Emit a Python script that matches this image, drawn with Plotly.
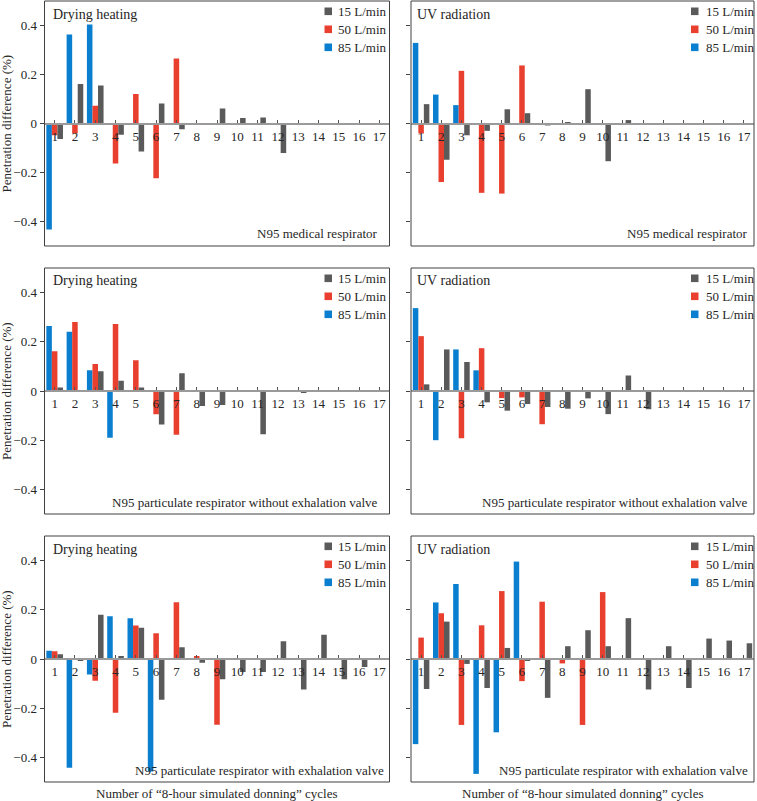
import plotly.graph_objects as go

W, H = 757, 801

cycles = list(range(1, 18))
series_names = ["85 L/min", "50 L/min", "15 L/min"]
legend_names = ["15 L/min", "50 L/min", "85 L/min"]
y_ticks = [-0.4, -0.2, 0, 0.2, 0.4]

# N95 medical respirator
dh_med_85 = [-0.433, 0.363, 0.404, 0, 0, 0, 0, 0, 0, 0, 0, 0, 0, 0, 0, 0, 0]
dh_med_50 = [-0.048, -0.041, 0.072, -0.163, 0.120, -0.223, 0.265, 0, 0, 0, 0, 0, 0, 0, 0, 0, 0]
dh_med_15 = [-0.063, 0.161, 0.155, -0.046, -0.114, 0.082, -0.023, -0.003, 0.061, 0.022, 0.024, -0.120, 0, 0, 0, 0, 0]
uv_med_85 = [0.329, 0.118, 0.075, 0, 0, 0, 0, 0, 0, 0, 0, 0, 0, 0, 0, 0, 0]
uv_med_50 = [-0.041, -0.239, 0.215, -0.283, -0.286, 0.237, 0, 0, 0, 0, 0, 0, 0, 0, 0, 0, 0]
uv_med_15 = [0.079, -0.148, -0.048, -0.030, 0.058, 0.042, -0.008, 0.004, 0.140, -0.154, 0.014, 0, 0, 0, 0, 0, 0]

# N95 particulate respirator without exhalation valve
dh_nov_85 = [0.264, 0.241, 0.084, -0.190, 0, 0, 0, 0, 0, 0, 0, 0, 0, 0, 0, 0, 0]
dh_nov_50 = [0.162, 0.280, 0.110, 0.272, 0.125, -0.095, -0.178, 0, 0, 0, 0, 0, 0, 0, 0, 0, 0]
dh_nov_15 = [0.014, 0, 0.080, 0.042, 0.014, -0.136, 0.072, -0.061, -0.057, -0.003, -0.176, -0.003, -0.008, 0, 0, 0, 0]
uv_nov_85 = [0.337, -0.200, 0.169, 0.084, 0, 0, 0, 0, 0, 0, 0, 0, 0, 0, 0, 0, 0]
uv_nov_50 = [0.223, 0.003, -0.192, 0.174, -0.029, -0.026, -0.135, 0, 0, 0, 0, 0, 0, 0, 0, 0, 0]
uv_nov_15 = [0.027, 0.169, 0.118, -0.046, -0.080, -0.053, -0.065, -0.072, -0.030, -0.094, 0.063, -0.074, 0, 0, 0, 0, 0]

# N95 particulate respirator with exhalation valve
dh_val_85 = [0.034, -0.442, -0.063, 0.174, 0.166, -0.457, 0, 0, 0, 0, 0, 0, 0, 0, 0, 0, 0]
dh_val_50 = [0.031, 0, -0.088, -0.218, 0.136, 0.105, 0.231, 0.012, -0.267, 0, 0, 0, 0, 0, 0, 0, 0]
dh_val_15 = [0.019, -0.008, 0.180, 0.012, 0.127, -0.166, 0.048, -0.015, -0.082, -0.053, -0.053, 0.072, -0.124, 0.099, -0.082, -0.033, 0]
uv_val_85 = [-0.346, 0.230, 0.305, -0.467, -0.298, 0.396, 0, 0, 0, 0, 0, 0, 0, 0, 0, 0, 0]
uv_val_50 = [0.087, 0.186, -0.268, 0.137, 0.276, -0.090, 0.233, -0.018, -0.268, 0.272, 0, 0, 0, 0, 0, 0, 0]
uv_val_15 = [-0.122, 0.152, -0.020, -0.118, 0.045, -0.008, -0.158, 0.052, 0.117, 0.052, 0.166, -0.124, 0.052, -0.118, 0.083, 0.075, 0.064]

treatments = ["Drying heating", "UV radiation"]
respirators = ["N95 medical respirator",
               "N95 particulate respirator without exhalation valve",
               "N95 particulate respirator with exhalation valve"]
x_title = "Number of \u201c8-hour simulated donning\u201d cycles"
y_title = "Penetration difference (%)"

panels = [
    (dh_med_85, dh_med_50, dh_med_15), (uv_med_85, uv_med_50, uv_med_15),
    (dh_nov_85, dh_nov_50, dh_nov_15), (uv_nov_85, uv_nov_50, uv_nov_15),
    (dh_val_85, dh_val_50, dh_val_15), (uv_val_85, uv_val_50, uv_val_15),
]

BLUE, RED, GRAY = "#0b7fcf", "#e83f2f", "#5a5a5a"
series_colors = [BLUE, RED, GRAY]
legend_colors = [GRAY, RED, BLUE]
FONT = "'Liberation Serif', 'Times New Roman', Times, serif"
TXT = "#262626"

col_px = [(44.5, 389.5), (411.0, 754.0)]
row_px = [(1.0, 246.0), (268.0, 514.0), (536.0, 782.0)]

fig = go.Figure()
layout = {}
shapes = []
annotations = []

for i, vals in enumerate(panels):
    r, c = divmod(i, 2)
    x0, x1 = col_px[c]
    t, b = row_px[r]
    xd = [x0 / W, x1 / W]
    yd = [1 - b / H, 1 - t / H]
    sfx = "" if i == 0 else str(i + 1)
    xa, ya = "x" + sfx, "y" + sfx
    for v, nm, col in zip(vals, series_names, series_colors):
        fig.add_trace(go.Bar(x=cycles, y=v, name=nm, marker_color=col,
                             marker_line_width=0, xaxis=xa, yaxis=ya,
                             showlegend=False))
    layout["xaxis" + sfx] = dict(
        domain=xd, range=[0.5, 17.5], anchor="free", position=(yd[0] + yd[1]) / 2,
        tickmode="array", tickvals=cycles, ticks="inside", ticklen=3, tickwidth=1,
        tickcolor="#555555", showline=True, linecolor="#9a9a9a", linewidth=1.5,
        showgrid=False, zeroline=False, ticklabelstandoff=1,
        tickfont=dict(family=FONT, size=13, color=TXT))
    layout["yaxis" + sfx] = dict(
        domain=yd, range=[-0.5, 0.5], anchor=xa, tickmode="array", tickvals=y_ticks,
        showticklabels=(c == 0), ticks="outside", ticklen=4, tickwidth=1,
        tickcolor="#444444", showgrid=False, zeroline=False, showline=False,
        tickfont=dict(family=FONT, size=13, color=TXT))
    # frame
    shapes.append(dict(type="rect", xref=xa + " domain", yref=ya + " domain",
                       x0=0, x1=1, y0=0, y1=1, line=dict(color="#404040", width=1),
                       layer="above"))
    # legend (squares + labels)
    sq_off = -65.0 if c == 0 else -63.0
    tx_off = -53.0 if c == 0 else -50.0
    for k, (ln, lc) in enumerate(zip(legend_names, legend_colors)):
        yc = -(10.3 + 18 * k)
        shapes.append(dict(type="rect", xref=xa + " domain", yref=ya + " domain",
                           xsizemode="pixel", ysizemode="pixel", xanchor=1, yanchor=1,
                           x0=sq_off, x1=sq_off + 7.5, y0=yc - 3.8, y1=yc + 3.8,
                           fillcolor=lc, line=dict(width=0)))
        annotations.append(dict(xref=xa + " domain", yref=ya + " domain", x=1, y=1,
                                xshift=tx_off, yshift=yc, xanchor="left", yanchor="middle",
                                text=ln, showarrow=False,
                                font=dict(family=FONT, size=13, color=TXT)))
    # treatment label
    annotations.append(dict(xref=xa + " domain", yref=ya + " domain", x=0, y=1,
                            xshift=(6 if c == 0 else 4), yshift=-13, xanchor="left",
                            yanchor="middle", text=treatments[c], showarrow=False,
                            font=dict(family=FONT, size=14, color=TXT)))
    # respirator label
    rx = -9 if c == 0 else -4
    if r == 2 and c == 0:
        rx = -3.5
    annotations.append(dict(xref=xa + " domain", yref=ya + " domain", x=1, y=0,
                            xshift=rx, yshift=12, xanchor="right", yanchor="middle",
                            text=respirators[r], showarrow=False,
                            font=dict(family=FONT, size=13, color=TXT)))
    if c == 0:
        annotations.append(dict(xref="paper", yref="paper", x=6 / W,
                                y=(yd[0] + yd[1]) / 2, xanchor="center", yanchor="middle",
                                textangle=-90, text=y_title, showarrow=False,
                                font=dict(family=FONT, size=13, color=TXT)))
    if r == 2:
        annotations.append(dict(xref=xa + " domain", yref="paper", x=0.5, y=1 - 793 / H,
                                xanchor="center", yanchor="middle", text=x_title,
                                showarrow=False,
                                font=dict(family=FONT, size=13, color=TXT)))

fig.update_layout(
    width=W, height=H, margin=dict(l=0, r=0, t=0, b=0),
    paper_bgcolor="white", plot_bgcolor="white",
    barmode="group", bargap=0.18, bargroupgap=0,
    showlegend=False, shapes=shapes, annotations=annotations,
    font=dict(family=FONT, size=13, color=TXT),
    **layout)

fig.write_html("out.html", config={"displayModeBar": False},
               post_script="document.body.style.margin='0';document.body.style.overflow='hidden';")
